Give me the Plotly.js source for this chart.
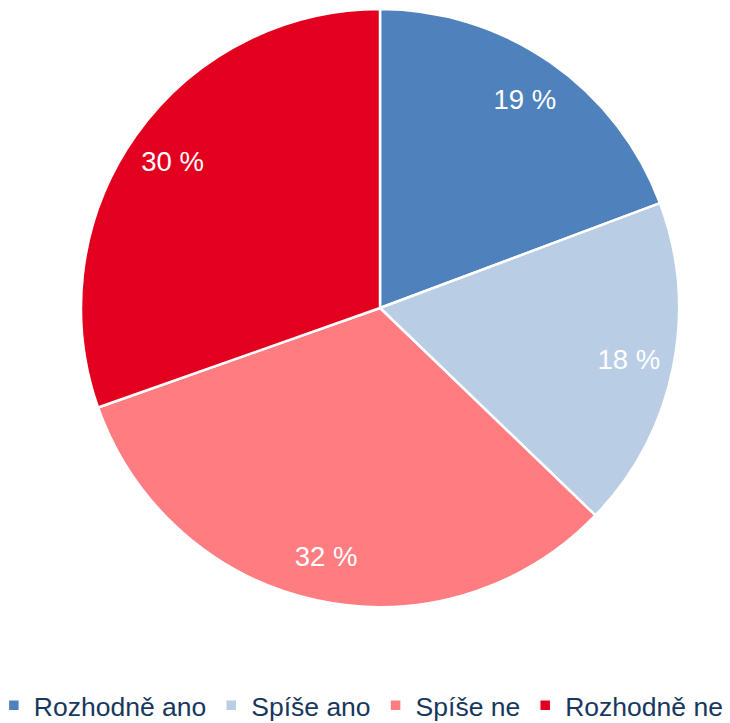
<!DOCTYPE html>
<html>
<head>
<meta charset="utf-8">
<script src="https://cdn.plot.ly/plotly-3.0.1.min.js"></script>
<style>html,body{margin:0;padding:0;background:#fff;}</style>
</head>
<body>
<div id="chart" style="width:730px;height:723px;"></div>
<script>
const categories = ["Rozhodně ano", "Spíše ano", "Spíše ne", "Rozhodně ne"];
const values = [19.3, 17.9, 32.4, 30.4];
const colors = ["#4F81BD", "#B9CDE5", "#FF7C80", "#E3001F"];

const W = 730, H = 723;
const cx = 380, cy = 308, r = 299;
const domain = {
  x: [(cx - r) / W, (cx + r) / W],
  y: [(H - cy - r) / H, (H - cy + r) / H]
};
const fontFamily = "Liberation Sans, Arial, sans-serif";

const slices = {
  type: "pie",
  labels: categories,
  values: values,
  sort: false,
  direction: "clockwise",
  rotation: 0,
  marker: {colors: colors, line: {color: "#FFFFFF", width: 2.5}},
  textinfo: "none",
  hoverinfo: "none",
  domain: domain
};

const labelRing = {
  type: "pie",
  labels: categories,
  values: values,
  sort: false,
  direction: "clockwise",
  rotation: 0,
  hole: 0.7,
  showlegend: false,
  marker: {colors: ["rgba(0,0,0,0)", "rgba(0,0,0,0)", "rgba(0,0,0,0)", "rgba(0,0,0,0)"], line: {width: 0}},
  texttemplate: "%{value:.0f} %",
  textposition: "inside",
  insidetextorientation: "horizontal",
  textfont: {family: fontFamily, size: 27.5, color: "#FFFFFF"},
  hoverinfo: "none",
  domain: domain
};

const layout = {
  width: W, height: H,
  margin: {l: 0, r: 0, t: 0, b: 0, autoexpand: false},
  paper_bgcolor: "#FFFFFF",
  showlegend: true,
  legend: {
    orientation: "h",
    x: 0.495, xanchor: "center",
    y: 0.024, yanchor: "middle",
    font: {family: fontFamily, size: 26.5, color: "#17375E"},
    itemwidth: 30,
    tracegroupgap: 0
  }
};

Plotly.newPlot("chart", [slices, labelRing], layout, {displayModeBar: false, staticPlot: true});
</script>
</body>
</html>
